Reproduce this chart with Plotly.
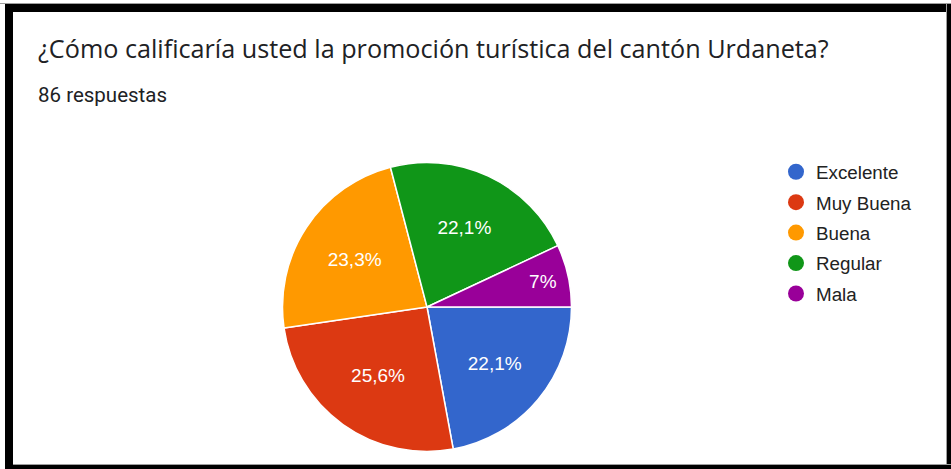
import plotly.graph_objects as go

W, H = 951, 469

# Survey answers (86 responses)
categories = ["Excelente", "Muy Buena", "Buena", "Regular", "Mala"]
counts = [19, 22, 20, 19, 6]
colors = ["#3366cc", "#dc3912", "#ff9900", "#109618", "#990099"]

title_text = "¿Cómo calificaría usted la promoción turística del cantón Urdaneta?"
subtitle_text = "86 respuestas"


def fmt_pct(v, total):
    p = round(100.0 * v / total, 1)
    s = f"{p:.1f}".replace(".", ",")
    if s.endswith(",0"):
        s = s[:-2]
    return s + "%"


total = sum(counts)
pct_labels = [fmt_pct(v, total) for v in counts]


def px_x(x):
    return x / W


def px_y(y):
    return 1 - y / H


# pie geometry in pixels
cx, cy, r = 427, 307, 144.5

fig = go.Figure()

fig.add_trace(go.Pie(
    labels=categories,
    values=counts,
    text=pct_labels,
    textinfo="text",
    textposition="inside",
    insidetextorientation="horizontal",
    sort=False,
    direction="clockwise",
    rotation=90,
    marker=dict(colors=colors, line=dict(color="white", width=1.5)),
    textfont=dict(family="Liberation Sans, Arial, sans-serif", size=19, color="white"),
    domain=dict(x=[px_x(cx - r), px_x(cx + r)], y=[px_y(cy + r), px_y(cy - r)]),
    showlegend=False,
    hoverinfo="label+percent",
))

# legend entries with round markers
for i, (name, col) in enumerate(zip(categories, colors)):
    fig.add_trace(go.Scatter(
        x=[None], y=[None], mode="markers", name=name,
        legendgroup=f"g{i}",
        marker=dict(symbol="circle", size=18, color=col),
        showlegend=True,
    ))

shapes = []
# frame around the card
frame = [
    (0, 3, W, 4, "#9e9e9e"),
    (5, 4, W, 12, "black"),
    (5, 4, 13, H, "black"),
    (946, 4, 947, H, "#9e9e9e"),
    (947, 4, W, H, "black"),
    (13, 464, W, 465, "#9e9e9e"),
    (5, 465, W, H, "black"),
]
for x0, y0, x1, y1, c in frame:
    shapes.append(dict(type="rect", xref="paper", yref="paper",
                       x0=px_x(x0), x1=px_x(x1), y0=px_y(y1), y1=px_y(y0),
                       fillcolor=c, line=dict(width=0), layer="above"))

annotations = [
    dict(text=title_text, xref="paper", yref="paper", x=px_x(36), y=px_y(48),
         xanchor="left", yanchor="middle", showarrow=False,
         font=dict(family="Open Sans, sans-serif", size=25.2, color="#202124")),
    dict(text=subtitle_text, xref="paper", yref="paper", x=px_x(36), y=px_y(95),
         xanchor="left", yanchor="middle", showarrow=False,
         font=dict(family="Roboto, sans-serif", size=20.5, color="#202124")),
]

fig.update_layout(
    width=W, height=H,
    margin=dict(l=0, r=0, t=0, b=0),
    paper_bgcolor="white", plot_bgcolor="white",
    xaxis=dict(visible=False, domain=[0, 1]),
    yaxis=dict(visible=False, domain=[0, 1]),
    shapes=shapes,
    annotations=annotations,
    legend=dict(
        x=px_x(776), y=px_y(153), xanchor="left", yanchor="top",
        font=dict(family="Liberation Sans, Arial, sans-serif", size=18.8, color="#222222"),
        tracegroupgap=3, itemclick=False, itemdoubleclick=False,
        bgcolor="rgba(0,0,0,0)",
    ),
    showlegend=True,
)

fig.write_html("out.html")
